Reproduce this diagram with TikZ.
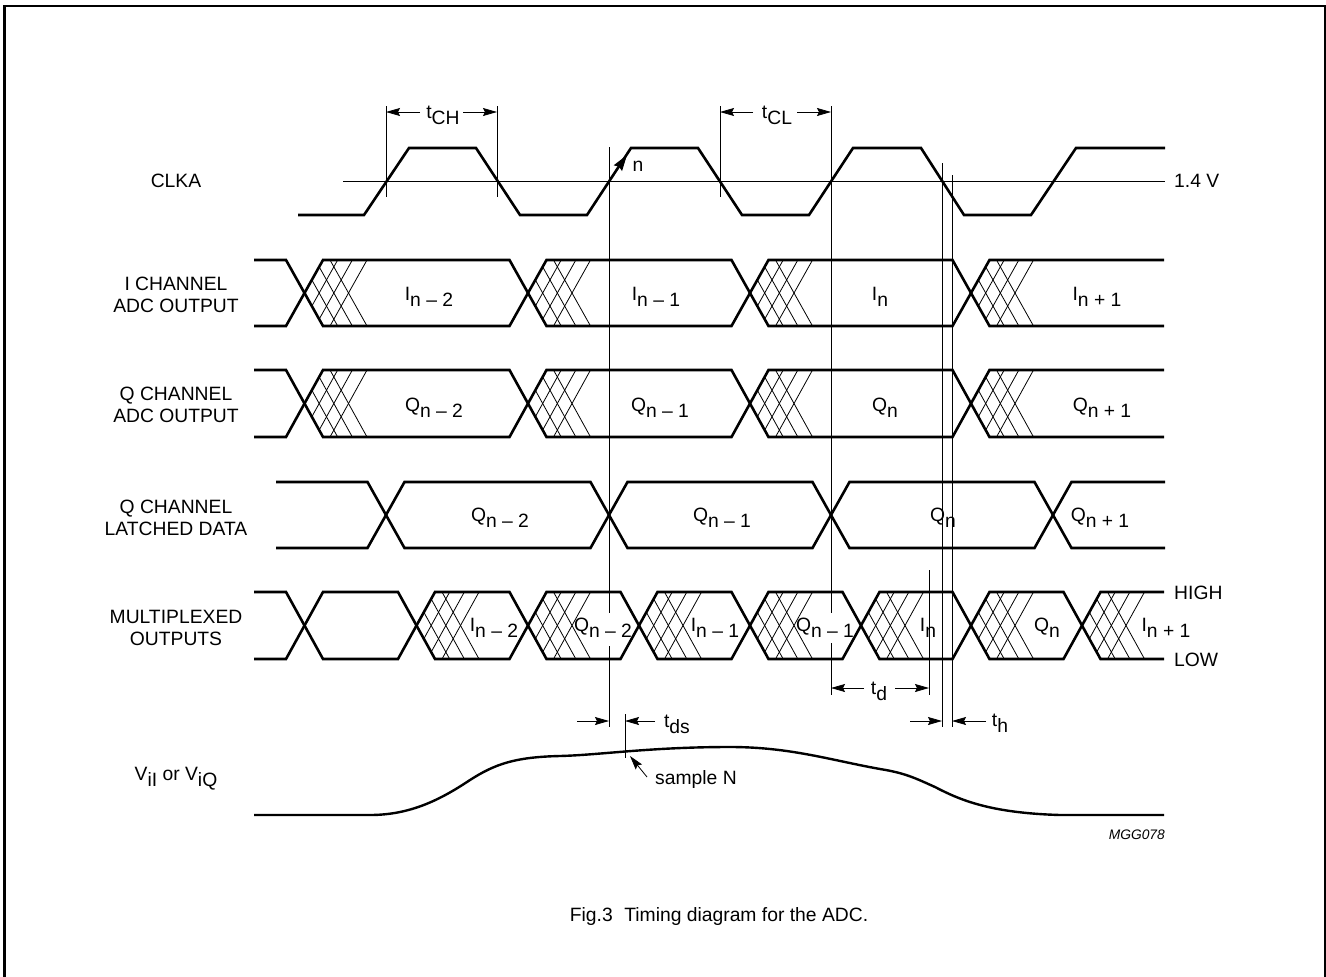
\documentclass[tikz,border=0pt]{standalone}
\usepackage{fontspec}
\setmainfont{Liberation Sans}
\usetikzlibrary{arrows.meta}
% lowered subscript, same size as the text
\newcommand{\dn}[1]{\raisebox{-0.33em}{#1}}
% hatched (uncertain) part after a data transition: centre, top, bottom
\newcommand{\hatchx}[3]{%
  \begin{scope}
  \clip (#1,{(#2+#3)/2}) -- (#1+18.5,#2) -- (#1+80,#2) -- (#1+80,#3) -- (#1+18.5,#3) -- cycle;
  \foreach \k in {1,2,3}{
    \draw[hatch] (#1-18.5+14.67*\k,#3) -- (#1+18.5+14.67*\k,#2);
    \draw[hatch] (#1-18.5+14.67*\k,#2) -- (#1+18.5+14.67*\k,#3);
  }
  \end{scope}}

\begin{document}
\begin{tikzpicture}[x=1pt,y=-1pt,>={Stealth[length=14pt,width=8pt,inset=2pt]},
  font=\fontsize{19.3}{22}\selectfont,line join=miter,
  sig/.style={line width=2.6pt},
  thin/.style={line width=0.8pt},
  hatch/.style={line width=0.8pt},
  lbl/.style={align=center,inner sep=0pt},
  dat/.style={anchor=base,inner sep=0pt}]
\useasboundingbox (0,0) rectangle (1326,977);
\draw[line width=2.5pt] (4.7,980) -- (4.7,6) -- (1325,6) -- (1325,980);

% signal names
\node[lbl] (clka) at (176,181) {CLKA};
\node[lbl] (ich) at (176,294.5) {I CHANNEL\\ADC OUTPUT};
\node[lbl] (qch) at (176,405) {Q CHANNEL\\ADC OUTPUT};
\node[lbl] (qlat) at (176,517.5) {Q CHANNEL\\LATCHED DATA};
\node[lbl] (mux) at (176,627.5) {MULTIPLEXED\\OUTPUTS};
\node[dat] (vin) at (176,780) {V\dn{iI} or V\dn{iQ}};

% clock
\draw[thin] (343,181) -- (1165,181);
\node[anchor=west,inner sep=0pt] (vref) at (1174,181) {1.4 V};
\draw[sig] (298,215) -- (364,215) -- (409,148) -- (476,148) -- (520,215) -- (587,215)
  -- (631,148) -- (698,148) -- (742,215) -- (809,215) -- (853,148) -- (921,148)
  -- (964,215) -- (1031,215) -- (1076,148) -- (1165,148);
\draw[->,line width=1.2pt,>={Stealth[length=16pt,width=10pt,inset=2pt]}] (609,181) -- (627,155);
\node[lbl] (nedge) at (638,166) {n};

% I channel
\draw[sig] (254,260) -- (286,260) -- (323,326) -- (509.5,326) -- (546.5,260) -- (731.5,260)
  -- (768.5,326) -- (952.5,326) -- (989.5,260) -- (1164,260);
\draw[sig] (254,326) -- (286,326) -- (323,260) -- (509.5,260) -- (546.5,326) -- (731.5,326)
  -- (768.5,260) -- (952.5,260) -- (989.5,326) -- (1164,326);
\hatchx{304.5}{260}{326}\hatchx{528}{260}{326}\hatchx{750}{260}{326}\hatchx{971}{260}{326}
\node[dat] (i2) at (429,300) {I\dn{n – 2}};
\node[dat] (i1) at (656,300) {I\dn{n – 1}};
\node[dat] (i0) at (880,300) {I\dn{n}};
\node[dat] (ip) at (1097,300) {I\dn{n + 1}};

% Q channel
\draw[sig] (254,370) -- (286,370) -- (323,437) -- (509.5,437) -- (546.5,370) -- (731.5,370)
  -- (768.5,437) -- (952.5,437) -- (989.5,370) -- (1164,370);
\draw[sig] (254,437) -- (286,437) -- (323,370) -- (509.5,370) -- (546.5,437) -- (731.5,437)
  -- (768.5,370) -- (952.5,370) -- (989.5,437) -- (1164,437);
\hatchx{304.5}{370}{437}\hatchx{528}{370}{437}\hatchx{750}{370}{437}\hatchx{971}{370}{437}
\node[dat] (q2) at (434,411) {Q\dn{n – 2}};
\node[dat] (q1) at (660,411) {Q\dn{n – 1}};
\node[dat] (q0) at (885,411) {Q\dn{n}};
\node[dat] (qp) at (1102,411) {Q\dn{n + 1}};

% Q latched
\draw[sig] (276,482) -- (367.5,482) -- (404.5,548) -- (590.5,548) -- (627.5,482) -- (812.5,482)
  -- (849.5,548) -- (1034.5,548) -- (1071.5,482) -- (1165,482);
\draw[sig] (276,548) -- (367.5,548) -- (404.5,482) -- (590.5,482) -- (627.5,548) -- (812.5,548)
  -- (849.5,482) -- (1034.5,482) -- (1071.5,548) -- (1165,548);
\node[dat] (l2) at (500,521) {Q\dn{n – 2}};
\node[dat] (l1) at (722,521) {Q\dn{n – 1}};
\node[dat] (l0) at (943,521) {Q\dn{n}};
\node[dat] (lp) at (1100,521) {Q\dn{n + 1}};

% multiplexed
\draw[sig] (254,592) -- (286,592) -- (323,659) -- (398,659) -- (435,592) -- (509.5,592)
  -- (546.5,659) -- (620.5,659) -- (657.5,592) -- (731.5,592) -- (768.5,659) -- (842.5,659)
  -- (879.5,592) -- (952.5,592) -- (989.5,659) -- (1063.5,659) -- (1100.5,592) -- (1164,592);
\draw[sig] (254,659) -- (286,659) -- (323,592) -- (398,592) -- (435,659) -- (509.5,659)
  -- (546.5,592) -- (620.5,592) -- (657.5,659) -- (731.5,659) -- (768.5,592) -- (842.5,592)
  -- (879.5,659) -- (952.5,659) -- (989.5,592) -- (1063.5,592) -- (1100.5,659) -- (1164,659);
\hatchx{416.5}{592}{659}\hatchx{528}{592}{659}\hatchx{639}{592}{659}\hatchx{750}{592}{659}
\hatchx{861}{592}{659}\hatchx{971}{592}{659}\hatchx{1082}{592}{659}
\node[dat] (m1) at (494,631) {I\dn{n – 2}};
\node[dat] (m2) at (603,631) {Q\dn{n – 2}};
\node[dat] (m3) at (715,631) {I\dn{n – 1}};
\node[dat] (m4) at (825,631) {Q\dn{n – 1}};
\node[dat] (m5) at (928,631) {I\dn{n}};
\node[dat] (m6) at (1047,631) {Q\dn{n}};
\node[dat] (m7) at (1166,631) {I\dn{n + 1}};
\node[anchor=west,inner sep=0pt] (high) at (1174,593) {HIGH};
\node[anchor=west,inner sep=0pt] (low) at (1174,660) {LOW};

% analog input
\draw[line width=2.4pt] (254,815) -- (370,815) .. controls (410,815) and (440,800) .. (470,780)
  .. controls (495,764) and (515,757) .. (560,756) .. controls (600,755) and (650,747) .. (730,747)
  .. controls (790,747) and (830,760) .. (880,769) .. controls (905,773) and (915,778) .. (935,787)
  .. controls (960,800) and (990,813) .. (1060,815) -- (1164,815);

% timing marks
\draw[thin] (386,106) -- (386,197);
\draw[thin] (497,106) -- (497,197);
\draw[thin] (720,106) -- (720,197);
\draw[thin] (831,106) -- (831,613) (831,643) -- (831,695);
\draw[thin] (609,147) -- (609,613) (609,646) -- (609,727);
\draw[thin] (929,570) -- (929,695);
\draw[thin] (942,163) -- (942,727);
\draw[thin] (952,175) -- (952,727);
\draw[thin] (625,714) -- (625,758);

\draw[->,thin] (420,112) -- (386,112);
\draw[->,thin] (463,112) -- (497,112);
\node[dat] (tch) at (443,118) {t\dn{CH}};
\draw[->,thin] (753,112) -- (720,112);
\draw[->,thin] (797,112) -- (831,112);
\node[dat] (tcl) at (777,118) {t\dn{CL}};
\draw[->,thin] (577,721) -- (609,721);
\draw[->,thin] (655,721) -- (625,721);
\node[dat] (tds) at (677,727) {t\dn{ds}};
\draw[->,thin] (864,688) -- (831,688);
\draw[->,thin] (895,688) -- (929,688);
\node[dat] (td) at (879,694) {t\dn{d}};
\draw[->,thin] (910,721) -- (942,721);
\draw[->,thin] (986,721) -- (952,721);
\node[dat] (th) at (1000,726) {t\dn{h}};
\draw[->,thin] (647,777) -- (630,756);
\node[anchor=base west,inner sep=0pt] (sampn) at (655,784) {sample N};

\node[anchor=east,inner sep=0pt,font=\fontsize{13.8}{16}\selectfont\itshape] (code) at (1165,835) {MGG078};
\node[inner sep=0pt] (cap) at (719,917) {Fig.3\hspace{0.6em}Timing diagram for the ADC.};
\end{tikzpicture}
\end{document}
